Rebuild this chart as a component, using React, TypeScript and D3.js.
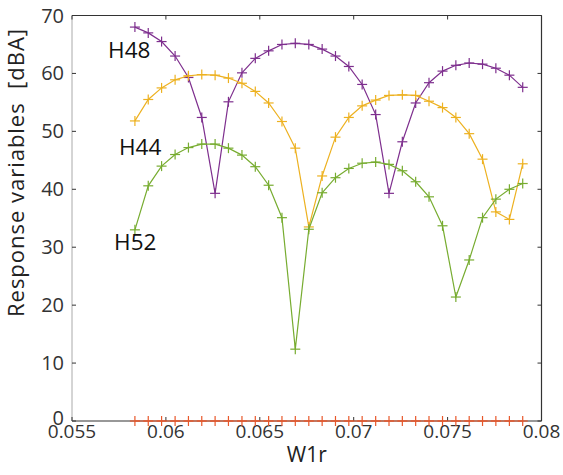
import React from "react";
import * as d3 from "d3";

const w1r = [
  0.05835, 0.05906, 0.05977, 0.06049, 0.0612, 0.06191, 0.06262, 0.06333, 0.06405, 0.06476,
  0.06547, 0.06618, 0.06689, 0.06761, 0.06832, 0.06903, 0.06974, 0.07045, 0.07117, 0.07188,
  0.07259, 0.0733, 0.07401, 0.07473, 0.07544, 0.07615, 0.07686, 0.07757, 0.07829, 0.079,
];

const h48 = [
  68.0, 67.0, 65.5, 63.0, 59.3, 52.4, 39.3, 55.1, 60.1, 62.6,
  63.9, 65.0, 65.2, 65.0, 64.2, 63.0, 61.2, 58.1, 52.9, 39.3,
  48.2, 54.9, 58.4, 60.4, 61.4, 61.8, 61.6, 60.9, 59.7, 57.6,
];

const h44 = [
  51.8, 55.5, 57.5, 58.9, 59.6, 59.8, 59.7, 59.2, 58.3, 56.9,
  54.9, 51.7, 47.1, 33.5, 42.3, 49.0, 52.4, 54.4, 55.4, 56.2,
  56.3, 56.2, 55.2, 54.1, 52.4, 49.6, 45.2, 36.1, 34.8, 44.4,
];

const h52 = [
  33.0, 40.6, 44.0, 46.0, 47.2, 47.8, 47.8, 47.1, 45.9, 43.9,
  40.7, 35.1, 12.4, 33.1, 39.4, 42.0, 43.6, 44.5, 44.7, 44.3,
  43.2, 41.3, 38.7, 33.7, 21.4, 27.8, 35.1, 38.3, 40.0, 41.0,
];

const zeroSeries = [
  0, 0, 0, 0, 0, 0, 0, 0, 0, 0,
  0, 0, 0, 0, 0, 0, 0, 0, 0, 0,
  0, 0, 0, 0, 0, 0, 0, 0, 0, 0,
];

const xTicks = [0.055, 0.06, 0.065, 0.07, 0.075, 0.08];
const xTickLabels = ["0.055", "0.06", "0.065", "0.07", "0.075", "0.08"];
const yTicks = [0, 10, 20, 30, 40, 50, 60, 70];

const seriesNames = ["H48", "H44", "H52", "zero"];
const seriesColors = ["#7E2F8E", "#EDB120", "#77AC30", "#E8572A"];

const annotations = [
  { text: "H48", x: 0.05692, y: 62.7 },
  { text: "H44", x: 0.0575, y: 45.9 },
  { text: "H52", x: 0.05724, y: 29.5 },
];

const W = 563;
const H = 475;
const left = 72;
const right = 541.5;
const top = 15.5;
const bottom = 421;

export default function App() {
  const x = d3.scaleLinear().domain([0.055, 0.08]).range([left, right]);
  const y = d3.scaleLinear().domain([0, 70]).range([bottom, top]);
  const allSeries = [h48, h44, h52, zeroSeries];
  const line = d3
    .line<number>()
    .x((_, i) => x(w1r[i]))
    .y((d) => y(d));
  const font = "'Open Sans', 'Noto Sans', sans-serif";
  const tickLen = 4;
  const m = 5;

  return (
    <svg
      width={W}
      height={H}
      style={{ position: "absolute", left: 0, top: 0, background: "#fff" }}
      fontFamily={font}
    >
      {/* box */}
      <line x1={left} x2={right} y1={top} y2={top} stroke="#333" strokeWidth={1} />
      <line x1={right} x2={right} y1={top} y2={bottom} stroke="#333" strokeWidth={1.2} />
      <line x1={left} x2={right} y1={bottom} y2={bottom} stroke="#333" strokeWidth={1.2} />
      <line x1={left} x2={left} y1={top} y2={bottom} stroke="#aaa" strokeWidth={1} />

      {/* x ticks */}
      {xTicks.map((t, i) => (
        <g key={"xt" + i}>
          <line x1={x(t)} x2={x(t)} y1={bottom} y2={bottom - tickLen} stroke="#333" />
          <line x1={x(t)} x2={x(t)} y1={top} y2={top + tickLen} stroke="#333" />
          <text
            x={x(t)}
            y={bottom + 17}
            textAnchor="middle"
            fontSize={19}
            fill="#333"
          >
            {xTickLabels[i]}
          </text>
        </g>
      ))}

      {/* y ticks */}
      {yTicks.map((t, i) => (
        <g key={"yt" + i}>
          <line x1={left} x2={left + tickLen} y1={y(t)} y2={y(t)} stroke="#333" />
          <line x1={right} x2={right - tickLen} y1={y(t)} y2={y(t)} stroke="#333" />
          <text
            x={left - 8}
            y={y(t) + (t === 0 ? 4 : 7)}
            textAnchor="end"
            fontSize={20}
            fill="#333"
          >
            {t}
          </text>
        </g>
      ))}

      {/* axis labels */}
      <text x={(left + right) / 2} y={462} textAnchor="middle" fontSize={21} fill="#222">
        W1r
      </text>
      <text
        transform={`translate(24,173) rotate(-90)`}
        textAnchor="middle"
        fontSize={22}
        fill="#222"
        textLength={288}
        lengthAdjust="spacing"
      >
        Response variables&#160;&#160;[dBA]
      </text>

      {/* series */}
      {allSeries.map((s, si) => (
        <g key={seriesNames[si]}>
          <path d={line(s) || ""} fill="none" stroke={seriesColors[si]} strokeWidth={1.2} />
          {s.map((v, i) => (
            <g key={i} stroke={seriesColors[si]} strokeWidth={1.2}>
              <line x1={x(w1r[i]) - m} x2={x(w1r[i]) + m} y1={y(v)} y2={y(v)} />
              <line x1={x(w1r[i])} x2={x(w1r[i])} y1={y(v) - m} y2={y(v) + m} />
            </g>
          ))}
        </g>
      ))}

      {/* annotations */}
      {annotations.map((a) => (
        <text key={a.text} x={x(a.x)} y={y(a.y)} fontSize={22.5} fill="#111">
          {a.text}
        </text>
      ))}
    </svg>
  );
}
